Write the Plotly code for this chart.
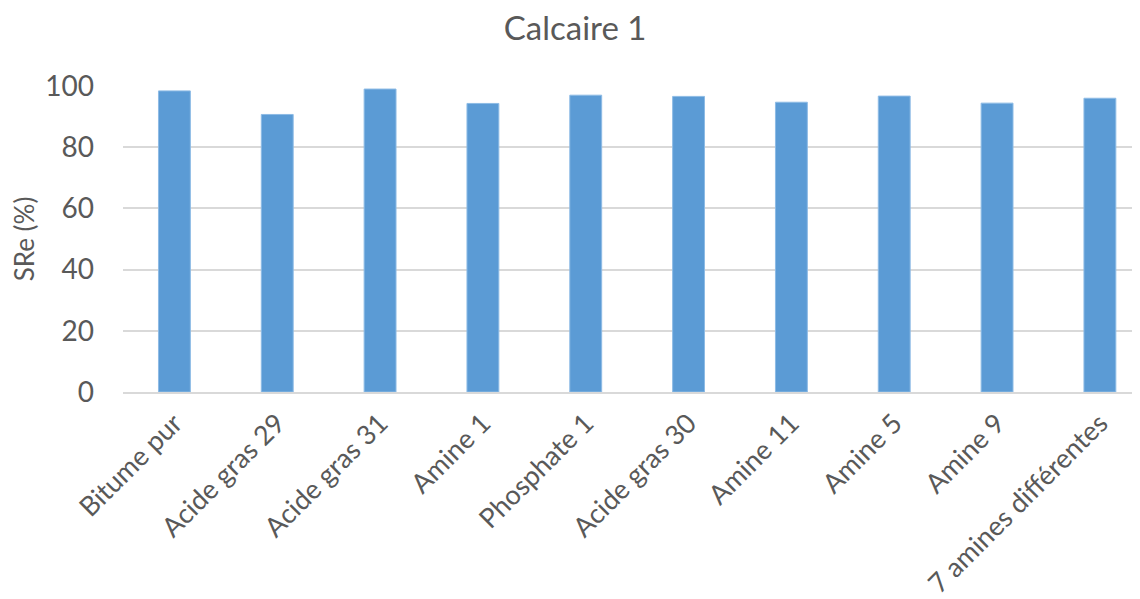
import plotly.graph_objects as go

categories = ['Bitume pur', 'Acide gras 29', 'Acide gras 31', 'Amine 1', 'Phosphate 1',
              'Acide gras 30', 'Amine 11', 'Amine 5', 'Amine 9', '7 amines différentes']
sre = [98.4, 90.7, 99.0, 94.3, 97.0, 96.6, 94.7, 96.7, 94.4, 96.0]

grey = '#595959'
grid = '#d9d9d9'

fig = go.Figure(go.Bar(x=categories, y=sre, marker_color='#5b9bd5',
                       marker_line=dict(color='#8dbbe5', width=1)))

# page body has an 8px margin, so the figure is a bit smaller than the window
fig.update_layout(
    width=1132, height=591,
    paper_bgcolor='white', plot_bgcolor='white',
    font=dict(family='Lato, Open Sans, sans-serif', color=grey),
    title=dict(text='Calcaire 1', x=0.501, xanchor='center', y=0.966, yanchor='middle',
               font=dict(size=33, color=grey)),
    margin=dict(l=115, r=0, t=78, b=207, autoexpand=False),
    bargap=0.69,
    showlegend=False,
)
fig.update_xaxes(range=[-0.5, 9.39], tickangle=-45, tickfont=dict(size=27, color=grey),
                 showgrid=False, showline=True, linecolor=grid, linewidth=1.5, ticks='',
                 ticklabelstandoff=3, automargin=False)
fig.update_yaxes(range=[0, 100], dtick=20, tickfont=dict(size=28, color=grey),
                 gridcolor=grid, gridwidth=1.5, zeroline=False, ticks='',
                 ticklabelstandoff=28, automargin=False,
                 title_text='SRe (%)', title_font=dict(size=26, color=grey), title_standoff=10)

fig.write_html('out.html')
